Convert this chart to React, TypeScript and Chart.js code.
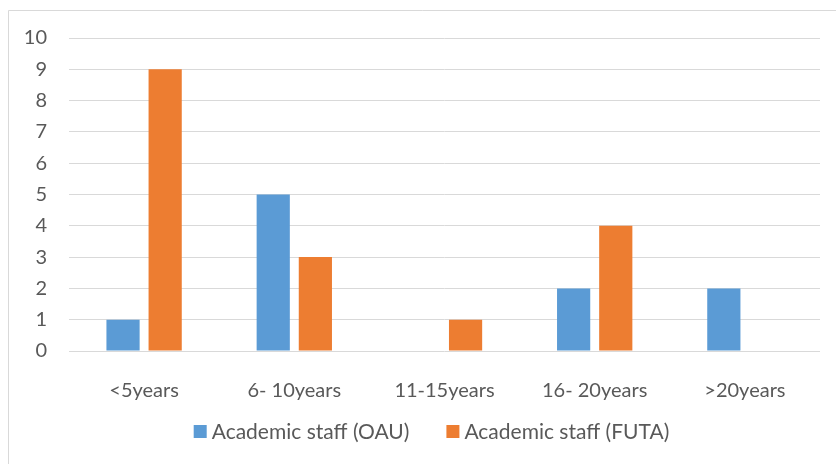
import React, { useEffect, useRef } from "react";
import { Chart, registerables } from "chart.js";

Chart.register(...registerables);

const categories = ["<5years", "6- 10years", "11-15years", "16- 20years", ">20years"];
const oauValues = [1, 5, 0, 2, 2];
const futaValues = [9, 3, 1, 4, 0];
const seriesNames = ["Academic staff (OAU)", "Academic staff (FUTA)"];
const seriesColors = ["#5B9BD5", "#ED7D31"];
const yTicks = [0, 1, 2, 3, 4, 5, 6, 7, 8, 9, 10];

const FONT = "Lato";
const TEXT = "#595959";
const GRID = "#D9D9D9";

const framePlugin = {
  id: "frame",
  beforeDraw(chart: any) {
    const { ctx, width, height } = chart;
    ctx.save();
    ctx.fillStyle = "#ffffff";
    ctx.fillRect(0, 0, width, height);
    ctx.strokeStyle = GRID;
    ctx.lineWidth = 1;
    ctx.beginPath();
    ctx.moveTo(8.5, height);
    ctx.lineTo(8.5, 10.5);
    ctx.lineTo(width, 10.5);
    ctx.stroke();
    ctx.restore();
  },
};

const legendPlugin = {
  id: "customLegend",
  afterDraw(chart: any) {
    const { ctx } = chart;
    ctx.save();
    ctx.font = `21px ${FONT}`;
    const box = 13;
    const gapText = 5;
    const gapItem = 37;
    const ds = chart.data.datasets;
    const widths = ds.map((d: any) => ctx.measureText(d.label).width);
    let total = 0;
    widths.forEach((w: number, i: number) => {
      total += box + gapText + w + (i < widths.length - 1 ? gapItem : 0);
    });
    let x = 431.5 - total / 2;
    const cy = 431.5;
    ds.forEach((d: any, i: number) => {
      ctx.fillStyle = d.backgroundColor;
      ctx.fillRect(x, cy - box / 2, box, box);
      ctx.fillStyle = TEXT;
      ctx.textBaseline = "middle";
      ctx.textAlign = "left";
      ctx.fillText(d.label, x + box + gapText, cy + 1);
      x += box + gapText + widths[i] + gapItem;
    });
    ctx.restore();
  },
};

export default function App() {
  const ref = useRef<HTMLCanvasElement>(null);
  useEffect(() => {
    if (!ref.current) return;
    const chart = new Chart(ref.current, {
      type: "bar",
      data: {
        labels: categories,
        datasets: [
          {
            label: seriesNames[0],
            data: oauValues,
            backgroundColor: seriesColors[0],
            categoryPercentage: 0.561,
            barPercentage: 0.788,
          },
          {
            label: seriesNames[1],
            data: futaValues,
            backgroundColor: seriesColors[1],
            categoryPercentage: 0.561,
            barPercentage: 0.788,
          },
        ],
      },
      options: {
        responsive: false,
        animation: false,
        devicePixelRatio: 1,
        layout: { padding: { top: 38, right: 16, bottom: 50, left: 0 } },
        plugins: {
          legend: { display: false },
          tooltip: { enabled: false },
        },
        scales: {
          x: {
            grid: { display: false },
            border: { display: false },
            ticks: {
              color: TEXT,
              font: { family: FONT, size: 20 },
              padding: 20,
              maxRotation: 0,
              autoSkip: false,
            },
            afterFit(scale: any) {
              scale.height = 63;
            },
          },
          y: {
            min: 0,
            max: 10,
            afterBuildTicks(scale: any) {
              scale.ticks = yTicks.map((v) => ({ value: v }));
            },
            grid: { color: GRID, lineWidth: 1, drawTicks: false },
            border: { display: false },
            ticks: {
              color: TEXT,
              font: { family: FONT, size: 20 },
              padding: 22,
            },
            afterFit(scale: any) {
              scale.width = 69;
            },
          },
        },
      },
      plugins: [framePlugin, legendPlugin],
    });
    return () => chart.destroy();
  }, []);
  return (
    <div style={{ position: "fixed", left: 0, top: 0, width: 836, height: 464 }}>
      <canvas ref={ref} width={836} height={464} style={{ width: 836, height: 464 }} />
    </div>
  );
}
